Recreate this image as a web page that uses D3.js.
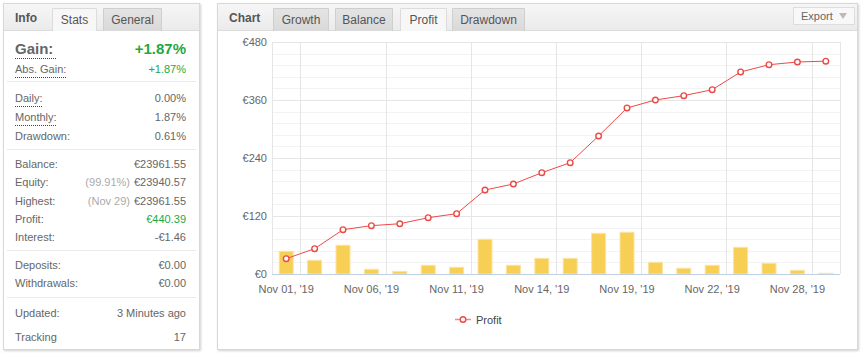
<!DOCTYPE html>
<html>
<head>
<meta charset="utf-8">
<script src="https://cdn.jsdelivr.net/npm/d3@7"></script>
<style>
  html, body { margin: 0; padding: 0; background: #fff; }
  svg { display: block; font-family: "Liberation Sans", Arial, sans-serif; }
</style>
</head>
<body>
<svg id="chart" width="861" height="355"></svg>
<script>
// ---- Data ----
const categories = ["Nov 01, '19","Nov 04, '19","Nov 05, '19","Nov 06, '19","Nov 07, '19","Nov 08, '19",
  "Nov 11, '19","Nov 12, '19","Nov 13, '19","Nov 14, '19","Nov 15, '19","Nov 18, '19",
  "Nov 19, '19","Nov 20, '19","Nov 21, '19","Nov 22, '19","Nov 25, '19","Nov 26, '19",
  "Nov 28, '19","Nov 29, '19"];
const profitLine = [31.7, 52.4, 91.7, 100, 104, 116.5, 124.8, 173.8, 186.2, 209.6,
  230.3, 285.5, 343.5, 360, 369, 381.3, 418, 433, 438.6, 440.39];
const dailyBars = [47, 28.3, 59.4, 9.7, 5.5, 18, 13.8, 71.8, 18, 32.4,
  32.4, 84.2, 86.3, 24.2, 11.8, 18, 55.2, 22.1, 7.6, 1.4];
const yTicks = [0, 120, 240, 360, 480];
const yMinorTicks = [24, 48, 72, 96, 144, 168, 192, 216, 264, 288, 312, 336, 384, 408, 432, 456];
const xLabelIdx = [0, 3, 6, 9, 12, 15, 18];
const seriesName = "Profit";

const infoTabs = ["Stats", "General"];
const chartTabs = ["Growth", "Balance", "Profit", "Drawdown"];
const statLabels = ["Abs. Gain:", "Daily:", "Monthly:", "Drawdown:", "Balance:", "Equity:", "Highest:",
  "Profit:", "Interest:", "Deposits:", "Withdrawals:", "Updated:", "Tracking"];
const statValues = ["+1.87%", "0.00%", "1.87%", "0.61%", "€23961.55", "€23940.57", "€23961.55",
  "€440.39", "-€1.46", "€0.00", "€0.00", "3 Minutes ago", "17"];
const statNotes = ["", "", "", "", "", "(99.91%)", "(Nov 29)", "", "", "", "", "", ""];
const gainLabel = "Gain:", gainValue = "+1.87%";

// ---- Layout ----
const svg = d3.select("#chart");
const defs = svg.append("defs");
const g1 = defs.append("linearGradient").attr("id", "hdr").attr("x1", 0).attr("y1", 0).attr("x2", 0).attr("y2", 1);
g1.append("stop").attr("offset", "0%").attr("stop-color", "#f6f6f6");
g1.append("stop").attr("offset", "100%").attr("stop-color", "#ebebeb");
const g2 = defs.append("linearGradient").attr("id", "tab").attr("x1", 0).attr("y1", 0).attr("x2", 0).attr("y2", 1);
g2.append("stop").attr("offset", "0%").attr("stop-color", "#e4e4e4");
g2.append("stop").attr("offset", "100%").attr("stop-color", "#d9d9d9");
const sh = defs.append("filter").attr("id", "shadow").attr("x", "-5%").attr("y", "-5%").attr("width", "110%").attr("height", "110%");
sh.append("feDropShadow").attr("dx", 1).attr("dy", 1).attr("stdDeviation", 1.2).attr("flood-color", "#000").attr("flood-opacity", 0.18);

function panel(x, y, w, h) {
  svg.append("rect").attr("x", x + 0.5).attr("y", y + 0.5).attr("width", w).attr("height", h)
    .attr("fill", "#fff").attr("stroke", "#d8d8d8").attr("filter", "url(#shadow)");
  svg.append("rect").attr("x", x + 1).attr("y", y + 1).attr("width", w - 1).attr("height", 29 - y)
    .attr("fill", "url(#hdr)");
  svg.append("line").attr("x1", x + 1).attr("x2", x + w).attr("y1", 30.5).attr("y2", 30.5).attr("stroke", "#dcdcdc");
}
function tab(x0, x1, label, active) {
  svg.append("path")
    .attr("d", `M${x0 + 0.5},31 L${x0 + 0.5},8.5 L${x1 - 0.5},8.5 L${x1 - 0.5},31`)
    .attr("fill", active ? "#f7f7f7" : "url(#tab)").attr("stroke", active ? "#dcdcdc" : "#cfcfcf");
  svg.append("text").attr("x", (x0 + x1) / 2).attr("y", 23.5).attr("text-anchor", "middle")
    .attr("font-size", 12).attr("fill", "#555").text(label);
}

// Left panel
panel(3, 3, 196, 346);
svg.append("text").attr("x", 15).attr("y", 22).attr("font-size", 12).attr("font-weight", "bold").attr("fill", "#555").text("Info");
tab(52, 97, infoTabs[0], true);
tab(103, 162, infoTabs[1], false);

const LX = 15, RX = 186;
svg.append("text").attr("x", LX).attr("y", 54).attr("font-size", 15).attr("font-weight", "bold").attr("fill", "#666").text(gainLabel);
svg.append("text").attr("x", RX).attr("y", 54).attr("text-anchor", "end").attr("font-size", 15).attr("font-weight", "bold").attr("fill", "#1fa83f").text(gainValue);
svg.append("line").attr("x1", LX).attr("x2", 56).attr("y1", 58.5).attr("y2", 58.5).attr("stroke", "#444").attr("stroke-dasharray", "1,1");

const rowY = [69, 98, 117, 136, 164, 182, 200.5, 218.5, 236.5, 265, 283, 312.5, 336.5];
const underlined = [0, 1, 2];
const greenRows = [0, 7];
statLabels.forEach((lab, i) => {
  const t = svg.append("text").attr("x", LX).attr("y", rowY[i] + 4).attr("font-size", 11).attr("fill", "#666").text(lab);
  if (underlined.includes(i)) {
    const w = t.node().getComputedTextLength();
    svg.append("line").attr("x1", LX).attr("x2", LX + w).attr("y1", rowY[i] + 8.5).attr("y2", rowY[i] + 8.5)
      .attr("stroke", "#444").attr("stroke-dasharray", "1,1");
  }
  const v = svg.append("text").attr("x", RX).attr("y", rowY[i] + 4).attr("text-anchor", "end").attr("font-size", 11)
    .attr("fill", greenRows.includes(i) ? "#1fa83f" : "#666").text(statValues[i]);
  if (statNotes[i]) {
    const w = v.node().getComputedTextLength();
    svg.append("text").attr("x", RX - w - 4).attr("y", rowY[i] + 4).attr("text-anchor", "end").attr("font-size", 11)
      .attr("fill", "#aaa").text(statNotes[i]);
  }
});
// monthly underline extra
svg.append("line").attr("x1", LX).attr("x2", LX).attr("y1", 0).attr("y2", 0);
[81.5, 149.5, 250.5, 297.5].forEach(y => {
  svg.append("line").attr("x1", 7).attr("x2", 196).attr("y1", y).attr("y2", y).attr("stroke", "#eaeaea");
});

// Chart panel
panel(217, 3, 640, 346);
svg.append("text").attr("x", 229).attr("y", 22).attr("font-size", 12).attr("font-weight", "bold").attr("fill", "#555").text("Chart");
tab(273, 329, chartTabs[0], false);
tab(335, 393, chartTabs[1], false);
tab(400, 447, chartTabs[2], true);
tab(452, 525, chartTabs[3], false);
svg.append("rect").attr("x", 793.5).attr("y", 7.5).attr("width", 61).attr("height", 17).attr("fill", "#f8f8f8").attr("stroke", "#dddddd");
svg.append("text").attr("x", 801).attr("y", 20).attr("font-size", 11).attr("fill", "#666").text("Export");
svg.append("path").attr("d", "M839,13 L847,13 L843,19 Z").attr("fill", "#bbb");

// ---- Plot ----
const x = d3.scaleBand().domain(categories).range([272, 840]).padding(0);
const y = d3.scaleLinear().domain([0, 480]).range([274, 42]);
const plot = svg.append("g");

plot.selectAll("line.minor").data(yMinorTicks).join("line")
  .attr("x1", 272).attr("x2", 840).attr("y1", d => Math.round(y(d)) + 0.5).attr("y2", d => Math.round(y(d)) + 0.5)
  .attr("stroke", "#f3f3f3");
plot.selectAll("line.major").data(yTicks).join("line")
  .attr("x1", 272).attr("x2", 840).attr("y1", d => Math.round(y(d)) + 0.5).attr("y2", d => Math.round(y(d)) + 0.5)
  .attr("stroke", "#e6e6e6");
const vIdx = [1, 4, 7, 10, 13, 16, 19];
plot.selectAll("line.v").data(vIdx).join("line")
  .attr("x1", d => Math.round(x(categories[d])) + 0.5).attr("x2", d => Math.round(x(categories[d])) + 0.5)
  .attr("y1", 42).attr("y2", 274).attr("stroke", "#e6e6e6");
[272.5, 840.5].forEach(xx => plot.append("line").attr("x1", xx).attr("x2", xx).attr("y1", 42).attr("y2", 274).attr("stroke", "#e6e6e6"));

// Y labels
plot.selectAll("text.yl").data(yTicks).join("text")
  .attr("x", 267).attr("y", d => y(d) + 4).attr("text-anchor", "end").attr("font-size", 11).attr("fill", "#666")
  .text(d => "€" + d);

// Bars
const bw = 14;
plot.selectAll("rect.bar").data(dailyBars).join("rect")
  .attr("x", (d, i) => x(categories[i]) + x.bandwidth() / 2 - bw / 2)
  .attr("y", d => y(d)).attr("width", bw).attr("height", d => 274 - y(d))
  .attr("fill", "#f8cf55").attr("stroke", "#fbe4a0").attr("stroke-width", 1);

// Axis baseline
plot.append("line").attr("x1", 272).attr("x2", 840).attr("y1", 274.5).attr("y2", 274.5).attr("stroke", "#c0d0e0");

// X labels
plot.selectAll("text.xl").data(xLabelIdx).join("text")
  .attr("x", d => x(categories[d]) + x.bandwidth() / 2).attr("y", 293).attr("text-anchor", "middle")
  .attr("font-size", 11).attr("fill", "#666").text(d => categories[d]);

// Line
const line = d3.line().x((d, i) => x(categories[i]) + x.bandwidth() / 2).y(d => y(d));
plot.append("path").datum(profitLine).attr("d", line).attr("fill", "none").attr("stroke", "#ec4a47").attr("stroke-width", 1);
plot.selectAll("circle.pt").data(profitLine).join("circle")
  .attr("cx", (d, i) => x(categories[i]) + x.bandwidth() / 2).attr("cy", d => y(d)).attr("r", 2.8)
  .attr("fill", "#fff").attr("stroke", "#ec4a47").attr("stroke-width", 1.4);

// Legend
const lg = svg.append("g");
lg.append("line").attr("x1", 455).attr("x2", 471).attr("y1", 319.5).attr("y2", 319.5).attr("stroke", "#f08a88").attr("stroke-width", 1.5);
lg.append("circle").attr("cx", 463).attr("cy", 319.5).attr("r", 2.8).attr("fill", "#fff").attr("stroke", "#ec4a47").attr("stroke-width", 1.4);
lg.append("text").attr("x", 476).attr("y", 323.5).attr("font-size", 11).attr("fill", "#444").text(seriesName);
</script>
</body>
</html>
